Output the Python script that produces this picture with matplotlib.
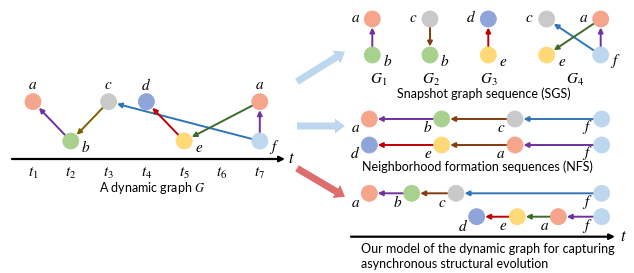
import matplotlib
matplotlib.use("Agg")
import matplotlib.pyplot as plt
from matplotlib.patches import Circle, FancyArrow
import numpy as np

plt.rcParams['mathtext.fontset'] = 'stix'
SANS = 'Lato'

# node fill colours
node_col = {"a": "#F4A58C", "b": "#A9D18E", "c": "#C9C9C9", "d": "#8FA4D8",
            "e": "#FFD978", "f": "#BDD7EE"}
edge_col = {"purple": "#7030A0", "olive": "#7F6000", "brown": "#843C0C",
            "blue": "#2E75B6", "red": "#C00000", "green": "#3D6B2A"}

# dynamic graph G: (label, time step, row)  row 0 = upper, 1 = lower
dyn_nodes = [("a", 1, 0), ("b", 2, 1), ("c", 3, 0), ("d", 4, 0),
             ("e", 5, 1), ("a", 7, 0), ("f", 7, 1)]
# (source index, target index, colour)
dyn_edges = [(1, 0, "purple"), (2, 1, "olive"), (6, 2, "blue"),
             (4, 3, "red"), (5, 4, "green"), (6, 5, "purple")]
time_labels = ["$t_1$", "$t_2$", "$t_3$", "$t_4$", "$t_5$", "$t_6$", "$t_7$"]

# snapshot graphs: (label, column, row)
sgs_nodes = [("a", 0, 0), ("b", 0, 1), ("c", 1, 0), ("b", 1, 1),
             ("d", 2, 0), ("e", 2, 1), ("c", 3, 0), ("a", 4, 0),
             ("e", 3, 1), ("f", 4, 1)]
sgs_edges = [(1, 0, "purple"), (2, 3, "brown"), (5, 4, "red"),
             (9, 6, "blue"), (7, 8, "green"), (9, 7, "purple")]
sgs_names = ["$G_1$", "$G_2$", "$G_3$", "$G_4$"]

# neighborhood formation sequences
nfs_seqs = [["a", "b", "c", "f"], ["d", "e", "a", "f"]]
nfs_cols = [["purple", "brown", "blue"], ["red", "brown", "purple"]]

# our model: same sequences placed on the time line
model_seqs = [["a", "b", "c", "f"], ["d", "e", "a", "f"]]
model_cols = [["purple", "brown", "blue"], ["red", "green", "purple"]]

R = 8.0

fig = plt.figure(figsize=(6.34, 2.73), dpi=100)
ax = fig.add_axes([0, 0, 1, 1])
ax.set_xlim(0, 634)
ax.set_ylim(273, 0)
ax.axis('off')


def node(x, y, lab):
    c = node_col[lab]
    ax.add_patch(Circle((x, y), R, facecolor=c, edgecolor=c, lw=0.6, zorder=3))


def edge(p, q, col):
    p = np.array(p, float)
    q = np.array(q, float)
    d = (q - p) / np.hypot(*(q - p))
    a = p + d * R
    b = q - d * (R + 0.5)
    ax.annotate("", xy=b, xytext=a,
                arrowprops=dict(arrowstyle="-|>", color=edge_col[col], lw=1.4,
                                mutation_scale=7, shrinkA=0, shrinkB=0), zorder=2)


def lab(x, y, s, size=11):
    ax.text(x, y, "$" + s + "$", fontsize=size, ha='center', va='center')


# ---- dynamic graph ----
t0, dt = 33, 37.8
rows_y = [101.7, 141]
pos = []
for l, t, r in dyn_nodes:
    x = t0 + (t - 1) * dt
    y = rows_y[r]
    pos.append((x, y))
    node(x, y, l)
    if r == 0:
        lab(x, y - 17, l)
    else:
        lab(x + 15, y + 6, l)
for s, t, c in dyn_edges:
    edge(pos[s], pos[t], c)

ax.annotate("", xy=(285, 159), xytext=(12, 159),
            arrowprops=dict(arrowstyle="-|>", color="black", lw=1.6,
                            mutation_scale=8, shrinkA=0, shrinkB=0))
lab(291, 158, "t", 12)
for i, s in enumerate(time_labels):
    ax.text(t0 + i * dt, 173, s, fontsize=11, ha='center', va='center')
ax.text(152, 188, "A dynamic graph $G$", fontsize=9, family=SANS,
        ha='center', va='center')

# ---- big arrows ----
ax.add_patch(FancyArrow(297, 81.7, 48, -30, width=7, head_width=15, head_length=10,
                        length_includes_head=True, color="#BDD7EE", lw=0))
ax.add_patch(FancyArrow(297, 126, 48, 0, width=7, head_width=15, head_length=10,
                        length_includes_head=True, color="#BDD7EE", lw=0))
ax.add_patch(FancyArrow(297, 168.3, 48, 28.4, width=7, head_width=15, head_length=10,
                        length_includes_head=True, color="#DE6E6E", lw=0))

# ---- SGS ----
sgs_x = [372.3, 430, 488.3, 546.7, 600.7]
sgs_y = [19, 55]
pos = []
for l, cidx, r in sgs_nodes:
    x, y = sgs_x[cidx], sgs_y[r]
    pos.append((x, y))
    node(x, y, l)
    if r == 0:
        lab(x - 17, y - 2, l)
    else:
        lab(x + 15, y + 6, l)
for s, t, c in sgs_edges:
    edge(pos[s], pos[t], c)
for x, s in zip([379, 431, 489, 575], sgs_names):
    ax.text(x, 80, s, fontsize=11, ha='center', va='center')
ax.text(484, 94, "Snapshot graph sequence (SGS)", fontsize=9, family=SANS,
        ha='center', va='center')

# ---- NFS ----
nfs_x = [369.3, 441.7, 515, 601.7]
nfs_y = [119, 145]
for seq, cols, y in zip(nfs_seqs, nfs_cols, nfs_y):
    for i, l in enumerate(seq):
        node(nfs_x[i], y, l)
        lab(nfs_x[i] - 14, y + 8, l)
    for i, c in enumerate(cols):
        edge((nfs_x[i + 1], y), (nfs_x[i], y), c)
ax.text(477, 167, "Neighborhood formation sequences (NFS)", fontsize=9, family=SANS,
        ha='center', va='center')

# ---- our model ----
model_x = [[369.3, 411.7, 456, 601.7], [476.7, 517.3, 558.3, 601.7]]
model_y = [193.3, 216.7]
for seq, cols, xs, y in zip(model_seqs, model_cols, model_x, model_y):
    for i, l in enumerate(seq):
        node(xs[i], y, l)
        lab(xs[i] - 14, y + 9, l)
    for i, c in enumerate(cols):
        edge((xs[i + 1], y), (xs[i], y), c)
ax.annotate("", xy=(615, 236.7), xytext=(351, 236.7),
            arrowprops=dict(arrowstyle="-|>", color="black", lw=1.6,
                            mutation_scale=8, shrinkA=0, shrinkB=0))
lab(623, 236, "t", 12)
ax.text(361, 249, "Our model of the dynamic graph for capturing", fontsize=9,
        family=SANS, ha='left', va='center')
ax.text(361, 264.5, "asynchronous structural evolution", fontsize=9,
        family=SANS, ha='left', va='center')

fig.savefig("out.png", dpi=100)
